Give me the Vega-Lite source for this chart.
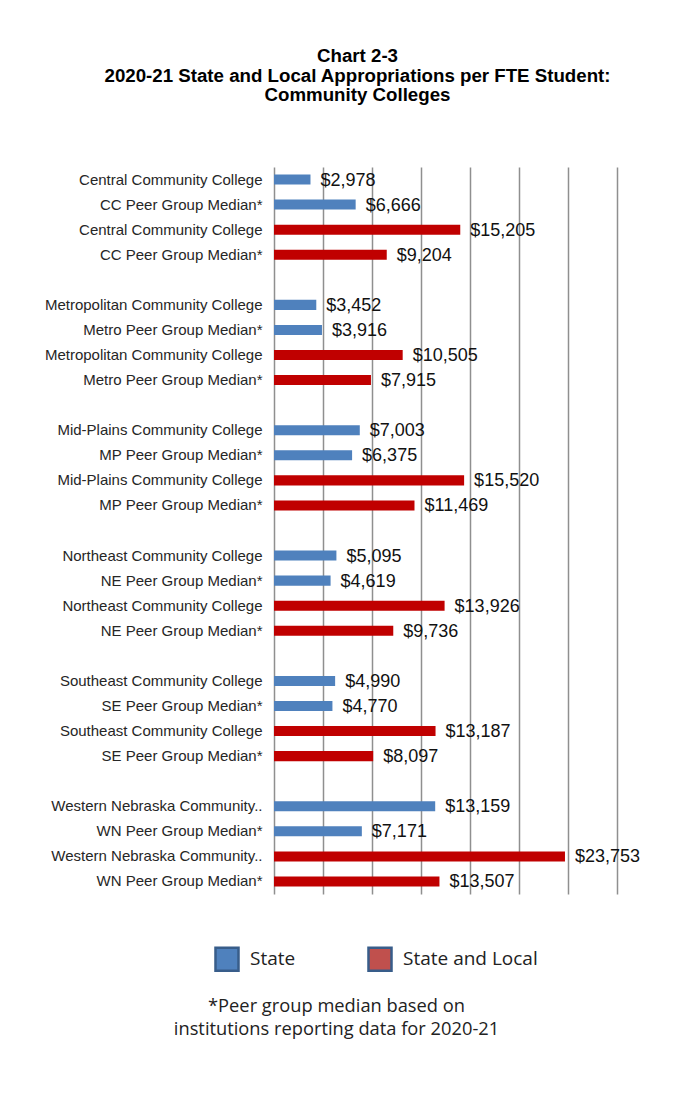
{
  "$schema": "https://vega.github.io/schema/vega-lite/v6.json",
  "autosize": {"type": "none"},
  "padding": {"left": 274, "top": 167, "right": 80, "bottom": 204},
  "width": 343,
  "height": 727,
  "background": "white",
  "title": {
    "text": ["Chart 2-3", "2020-21 State and Local Appropriations per FTE Student:", "Community Colleges"],
    "font": "Liberation Sans",
    "fontSize": 18.7,
    "fontWeight": "bold",
    "color": "#000000",
    "lineHeight": 19.5,
    "anchor": "middle",
    "frame": "group",
    "dx": -88,
    "offset": 62
  },
  "data": {
    "values": [
      {"item": "Central Community College | State", "type": "State", "value": 2978},
      {"item": "CC Peer Group Median* | State", "type": "State", "value": 6666},
      {"item": "Central Community College | State and Local", "type": "State and Local", "value": 15205},
      {"item": "CC Peer Group Median* | State and Local", "type": "State and Local", "value": 9204},
      {"item": "Metropolitan Community College | State", "type": "State", "value": 3452},
      {"item": "Metro Peer Group Median* | State", "type": "State", "value": 3916},
      {"item": "Metropolitan Community College | State and Local", "type": "State and Local", "value": 10505},
      {"item": "Metro Peer Group Median* | State and Local", "type": "State and Local", "value": 7915},
      {"item": "Mid-Plains Community College | State", "type": "State", "value": 7003},
      {"item": "MP Peer Group Median* | State", "type": "State", "value": 6375},
      {"item": "Mid-Plains Community College | State and Local", "type": "State and Local", "value": 15520},
      {"item": "MP Peer Group Median* | State and Local", "type": "State and Local", "value": 11469},
      {"item": "Northeast Community College | State", "type": "State", "value": 5095},
      {"item": "NE Peer Group Median* | State", "type": "State", "value": 4619},
      {"item": "Northeast Community College | State and Local", "type": "State and Local", "value": 13926},
      {"item": "NE Peer Group Median* | State and Local", "type": "State and Local", "value": 9736},
      {"item": "Southeast Community College | State", "type": "State", "value": 4990},
      {"item": "SE Peer Group Median* | State", "type": "State", "value": 4770},
      {"item": "Southeast Community College | State and Local", "type": "State and Local", "value": 13187},
      {"item": "SE Peer Group Median* | State and Local", "type": "State and Local", "value": 8097},
      {"item": "Western Nebraska Community.. | State", "type": "State", "value": 13159},
      {"item": "WN Peer Group Median* | State", "type": "State", "value": 7171},
      {"item": "Western Nebraska Community.. | State and Local", "type": "State and Local", "value": 23753},
      {"item": "WN Peer Group Median* | State and Local", "type": "State and Local", "value": 13507}
    ]
  },
  "encoding": {
    "y": {
      "field": "item",
      "type": "nominal",
      "title": null,
      "scale": {
        "domain": [
          "Central Community College | State",
          "CC Peer Group Median* | State",
          "Central Community College | State and Local",
          "CC Peer Group Median* | State and Local",
          "gap1",
          "Metropolitan Community College | State",
          "Metro Peer Group Median* | State",
          "Metropolitan Community College | State and Local",
          "Metro Peer Group Median* | State and Local",
          "gap2",
          "Mid-Plains Community College | State",
          "MP Peer Group Median* | State",
          "Mid-Plains Community College | State and Local",
          "MP Peer Group Median* | State and Local",
          "gap3",
          "Northeast Community College | State",
          "NE Peer Group Median* | State",
          "Northeast Community College | State and Local",
          "NE Peer Group Median* | State and Local",
          "gap4",
          "Southeast Community College | State",
          "SE Peer Group Median* | State",
          "Southeast Community College | State and Local",
          "SE Peer Group Median* | State and Local",
          "gap5",
          "Western Nebraska Community.. | State",
          "WN Peer Group Median* | State",
          "Western Nebraska Community.. | State and Local",
          "WN Peer Group Median* | State and Local"
        ],
        "paddingInner": 0.6,
        "paddingOuter": 0.3
      },
      "axis": {
        "labelExpr": "substring(datum.label, 0, 3) === 'gap' ? '' : split(datum.label, ' | ')[0]",
        "domain": false,
        "ticks": false,
        "grid": false,
        "labelPadding": 12,
        "labelFont": "Liberation Sans",
        "labelFontSize": 15,
        "labelColor": "#262626",
        "labelLimit": 400
      }
    },
    "x": {
      "field": "value",
      "type": "quantitative",
      "scale": {"domain": [0, 28000], "nice": false},
      "axis": {
        "values": [0, 4000, 8000, 12000, 16000, 20000, 24000, 28000],
        "labels": false,
        "ticks": false,
        "domain": false,
        "grid": true,
        "gridColor": "#8f8f8f",
        "gridWidth": 1.5,
        "title": ["*Peer group median based on", "institutions reporting data for 2020-21"],
        "titleFont": "Open Sans",
        "titleFontSize": 18.3,
        "titleFontWeight": "normal",
        "titleColor": "#222222",
        "titleLineHeight": 23,
        "titleAlign": "center",
        "titleBaseline": "top",
        "titleAngle": 0,
        "titleX": 62,
        "titleY": 103
      }
    }
  },
  "layer": [
    {
      "mark": {"type": "bar"},
      "encoding": {
        "color": {
          "field": "type",
          "type": "nominal",
          "scale": {"range": ["#4f81bd", "#c00000"]},
          "legend": null
        }
      }
    },
    {
      "mark": {"type": "bar", "opacity": 0},
      "encoding": {
        "fill": {
          "field": "type",
          "type": "nominal",
          "scale": {"domain": ["State", "State and Local"], "range": ["#4f81bd", "#c0504d"]},
          "legend": {
            "title": null,
            "orient": "none",
            "direction": "horizontal",
            "legendX": -60,
            "legendY": 779,
            "symbolType": "square",
            "symbolSize": 530,
            "symbolOpacity": 1,
            "symbolStrokeWidth": 2.5,
            "symbolStrokeColor": "#385d8a",
            "labelFont": "Open Sans",
            "labelFontSize": 19,
            "labelColor": "#222222",
            "labelOffset": 10,
            "columnPadding": 67
          }
        }
      }
    },
    {
      "mark": {
        "type": "text",
        "align": "left",
        "baseline": "middle",
        "dx": 10,
        "dy": 1,
        "font": "Liberation Sans",
        "fontSize": 18,
        "color": "#111111"
      },
      "encoding": {
        "text": {"field": "value", "type": "quantitative", "format": "$,.0f"}
      }
    }
  ],
  "config": {
    "view": {"stroke": null}
  }
}
